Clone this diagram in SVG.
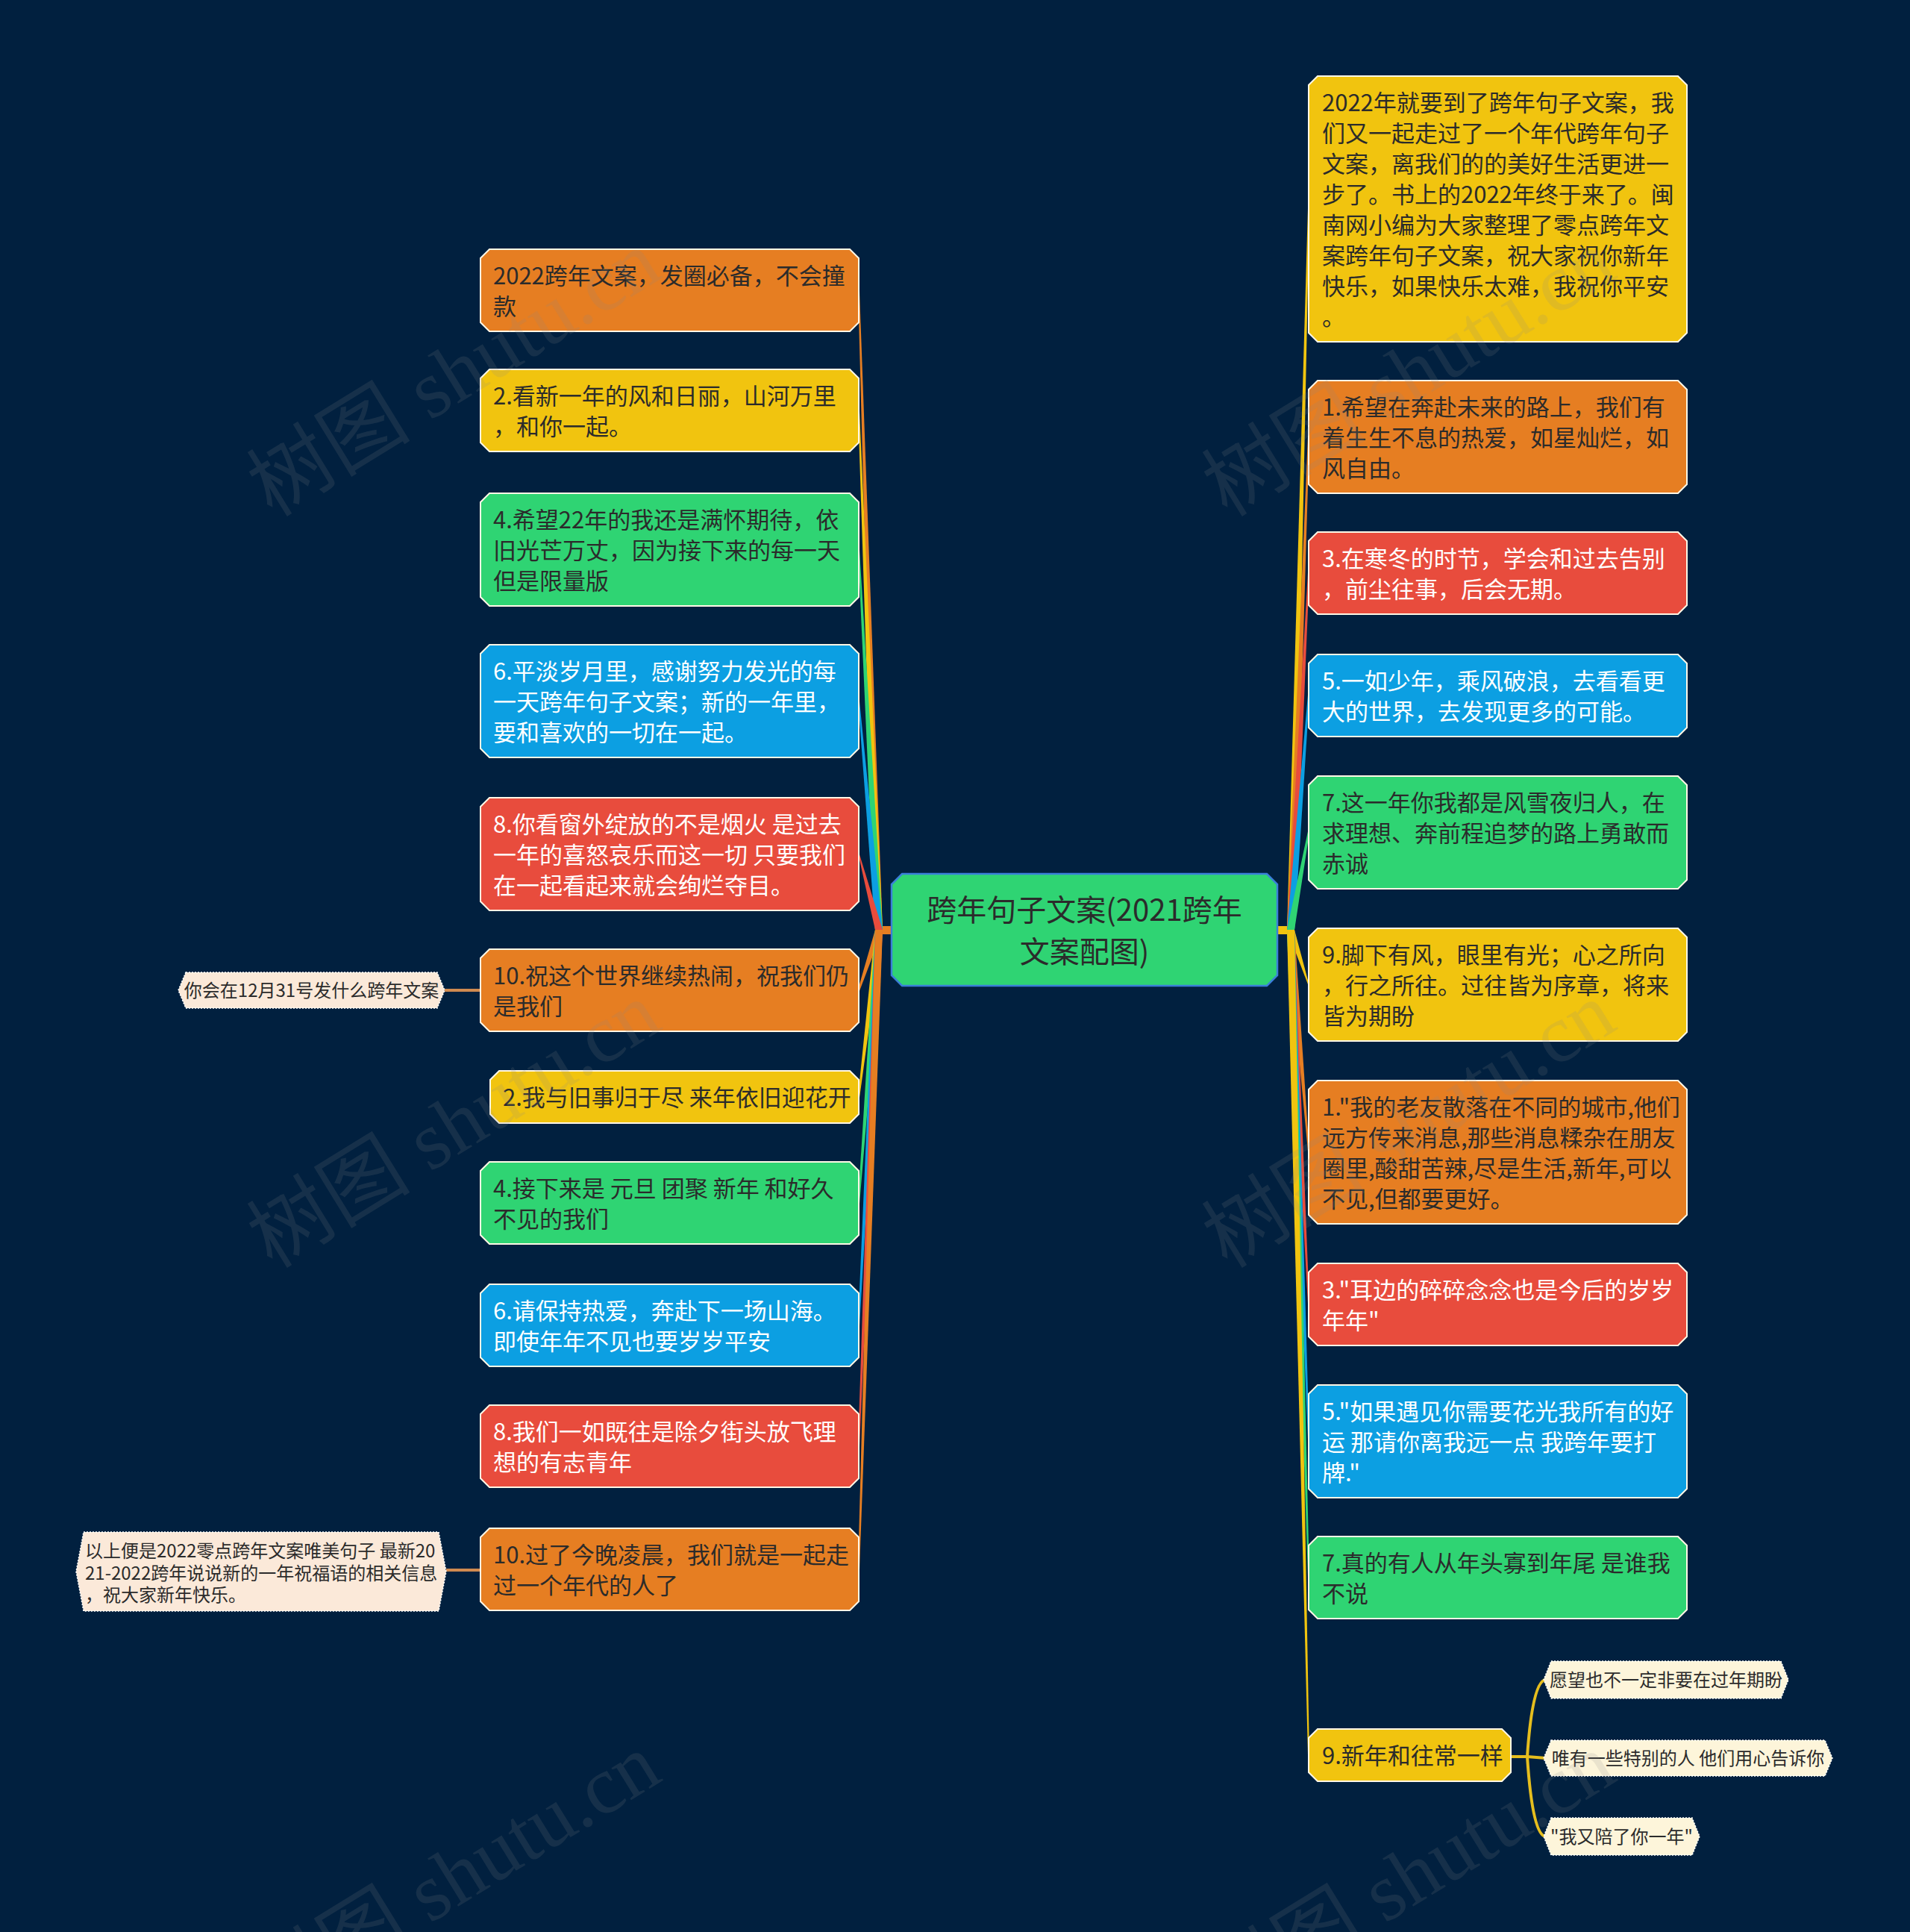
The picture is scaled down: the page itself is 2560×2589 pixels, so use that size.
<svg xmlns="http://www.w3.org/2000/svg" width="2560" height="2589" viewBox="0 0 2560 2589">
<style>
.t{font-family:"Noto Sans CJK SC","Noto Sans",sans-serif;font-size:31px}
.dk{fill:#2b2b2b}
.lt{fill:#ffffff}
.nb{stroke:#fff7e6;stroke-width:2}
.or{fill:#e67e22}.ye{fill:#f1c40f}.gr{fill:#2fd473}.bl{fill:#0c9fe2}.rd{fill:#e84c3d}
.sub{stroke:#ffffff;stroke-width:1.5;stroke-dasharray:2 2}
.st{font-family:"Noto Sans CJK SC","Noto Sans",sans-serif;fill:#2b2b2b;font-size:24px}
.wm{font-family:"Liberation Serif","Noto Sans CJK SC",serif;font-size:110px;fill:#8a8a8a;fill-opacity:0.16}
</style>
<defs>
<path id="box2" d="M12,0 H495 L507,12 V98 L495,110 H12 L0,98 V12 Z"/>
<path id="box3" d="M12,0 H495 L507,12 V139 L495,151 H12 L0,139 V12 Z"/>
</defs>
<rect x="0" y="0" width="2560" height="2589" fill="#01203f"/>

<g id="connectors">
<rect x="1173" y="1241" width="24" height="11" fill="#e67e22"/>
<rect x="1712" y="1241" width="23" height="11" fill="#f1c40f"/>
<polygon points="1173,1246 1150,388 1152,390 1183,1246" fill="#e67e22"/>
<polygon points="1173,1246 1150,549 1152,551 1183,1246" fill="#f1c40f"/>
<polygon points="1173,1246 1150,735 1152,737 1183,1246" fill="#2fd473"/>
<polygon points="1173,1246 1150,938 1152,940 1183,1246" fill="#0c9fe2"/>
<polygon points="1173,1246 1150,1143 1152,1145 1183,1246" fill="#e84c3d"/>
<polygon points="1173,1246 1150,1326 1152,1328 1183,1246" fill="#e67e22"/>
<polygon points="1173,1246 1150,1469 1152,1471 1183,1246" fill="#f1c40f"/>
<polygon points="1173,1246 1150,1611 1152,1613 1183,1246" fill="#2fd473"/>
<polygon points="1173,1246 1150,1775 1152,1777 1183,1246" fill="#0c9fe2"/>
<polygon points="1173,1246 1150,1937 1152,1939 1183,1246" fill="#e84c3d"/>
<polygon points="1173,1246 1150,2102 1152,2104 1183,1246" fill="#e67e22"/>

<polygon points="1725,1246 1753,279 1755,281 1735,1246" fill="#f1c40f"/>
<polygon points="1725,1246 1753,584 1755,586 1735,1246" fill="#e67e22"/>
<polygon points="1725,1246 1753,767 1755,769 1735,1246" fill="#e84c3d"/>
<polygon points="1725,1246 1753,931 1755,933 1735,1246" fill="#0c9fe2"/>
<polygon points="1725,1246 1753,1114 1755,1116 1735,1246" fill="#2fd473"/>
<polygon points="1725,1246 1753,1319 1755,1321 1735,1246" fill="#f1c40f"/>
<polygon points="1725,1246 1753,1543 1755,1545 1735,1246" fill="#e67e22"/>
<polygon points="1725,1246 1753,1747 1755,1749 1735,1246" fill="#e84c3d"/>
<polygon points="1725,1246 1753,1930 1755,1932 1735,1246" fill="#0c9fe2"/>
<polygon points="1725,1246 1753,2113 1755,2115 1735,1246" fill="#2fd473"/>
<polygon points="1725,1246 1753,2351 1755,2353 1735,1246" fill="#f1c40f"/>

<line x1="596" y1="1327" x2="646" y2="1327" stroke="#d08a50" stroke-width="4"/>
<line x1="598" y1="2104" x2="646" y2="2104" stroke="#d08a50" stroke-width="4"/>
<g fill="none" stroke="#e6be1e" stroke-width="4">
<path d="M2023,2354 H2049"/>
<path d="M2047,2354 Q2054,2251 2072,2251"/>
<path d="M2047,2354 L2072,2356"/>
<path d="M2047,2354 Q2054,2461 2072,2461"/>
</g>
</g>

<g id="center" transform="translate(1195,1171)">
<path d="M14,0 H503 L517,14 V136 L503,150 H14 L0,136 V14 Z" fill="#2fd473" stroke="#3a7fd8" stroke-width="2.5"/>
<text class="t dk" style="font-size:40px" text-anchor="middle"><tspan x="258.5" y="63">跨年句子文案(2021跨年</tspan><tspan x="258.5" y="119">文案配图)</tspan></text>
</g>

<g id="L1" transform="translate(644,334)"><use href="#box2" class="or nb"/><text class="t dk"><tspan x="17" y="47">2022跨年文案，发圈必备，不会撞</tspan><tspan x="17" dy="41">款</tspan></text></g>
<g id="L2" transform="translate(644,495)"><use href="#box2" class="ye nb"/><text class="t dk"><tspan x="17" y="47">2.看新一年的风和日丽，山河万里</tspan><tspan x="17" dy="41">，和你一起。</tspan></text></g>
<g id="L3" transform="translate(644,661)"><use href="#box3" class="gr nb"/><text class="t dk"><tspan x="17" y="47">4.希望22年的我还是满怀期待，依</tspan><tspan x="17" dy="41">旧光芒万丈，因为接下来的每一天</tspan><tspan x="17" dy="41">但是限量版</tspan></text></g>
<g id="L4" transform="translate(644,864)"><use href="#box3" class="bl nb"/><text class="t lt"><tspan x="17" y="47">6.平淡岁月里，感谢努力发光的每</tspan><tspan x="17" dy="41">一天跨年句子文案；新的一年里，</tspan><tspan x="17" dy="41">要和喜欢的一切在一起。</tspan></text></g>
<g id="L5" transform="translate(644,1069)"><use href="#box3" class="rd nb"/><text class="t lt"><tspan x="17" y="47">8.你看窗外绽放的不是烟火 是过去</tspan><tspan x="17" dy="41">一年的喜怒哀乐而这一切 只要我们</tspan><tspan x="17" dy="41">在一起看起来就会绚烂夺目。</tspan></text></g>
<g id="L6" transform="translate(644,1272)"><use href="#box2" class="or nb"/><text class="t dk"><tspan x="17" y="47">10.祝这个世界继续热闹，祝我们仍</tspan><tspan x="17" dy="41">是我们</tspan></text></g>
<g id="L7" transform="translate(657,1435)"><path d="M12,0 H482 L494,12 V58 L482,70 H12 L0,58 V12 Z" class="ye nb"/><text class="t dk"><tspan x="17" y="47">2.我与旧事归于尽 来年依旧迎花开</tspan></text></g>
<g id="L8" transform="translate(644,1557)"><use href="#box2" class="gr nb"/><text class="t dk"><tspan x="17" y="47">4.接下来是 元旦 团聚 新年 和好久</tspan><tspan x="17" dy="41">不见的我们</tspan></text></g>
<g id="L9" transform="translate(644,1721)"><use href="#box2" class="bl nb"/><text class="t lt"><tspan x="17" y="47">6.请保持热爱，奔赴下一场山海。</tspan><tspan x="17" dy="41">即使年年不见也要岁岁平安</tspan></text></g>
<g id="L10" transform="translate(644,1883)"><use href="#box2" class="rd nb"/><text class="t lt"><tspan x="17" y="47">8.我们一如既往是除夕街头放飞理</tspan><tspan x="17" dy="41">想的有志青年</tspan></text></g>
<g id="L11" transform="translate(644,2048)"><use href="#box2" class="or nb"/><text class="t dk"><tspan x="17" y="47">10.过了今晚凌晨，我们就是一起走</tspan><tspan x="17" dy="41">过一个年代的人了</tspan></text></g>

<g id="S1" transform="translate(239,1303)"><path d="M10,0 H347 L357,24 L347,48 H10 L0,24 Z" fill="#fbe9d9" class="sub"/><text class="st" text-anchor="middle" x="178.5" y="33">你会在12月31号发什么跨年文案</text></g>
<g id="S2" transform="translate(102,2053)"><path d="M10,0 H486 L496,53 L486,106 H10 L0,53 Z" fill="#fbe9d9" class="sub"/><text class="st"><tspan x="12" y="34">以上便是2022零点跨年文案唯美句子 最新20</tspan><tspan x="12" y="64">21-2022跨年说说新的一年祝福语的相关信息</tspan><tspan x="12" y="93">，祝大家新年快乐。</tspan></text></g>

<g id="R1" transform="translate(1754,102)"><path d="M12,0 H495 L507,12 V344 L495,356 H12 L0,344 V12 Z" class="ye nb"/><text class="t dk"><tspan x="18" y="47">2022年就要到了跨年句子文案，我</tspan><tspan x="18" dy="41">们又一起走过了一个年代跨年句子</tspan><tspan x="18" dy="41">文案，离我们的的美好生活更进一</tspan><tspan x="18" dy="41">步了。书上的2022年终于来了。闽</tspan><tspan x="18" dy="41">南网小编为大家整理了零点跨年文</tspan><tspan x="18" dy="41">案跨年句子文案，祝大家祝你新年</tspan><tspan x="18" dy="41">快乐，如果快乐太难，我祝你平安</tspan><tspan x="18" dy="41">。</tspan></text></g>
<g id="R2" transform="translate(1754,510)"><use href="#box3" class="or nb"/><text class="t dk"><tspan x="18" y="47">1.希望在奔赴未来的路上，我们有</tspan><tspan x="18" dy="41">着生生不息的热爱，如星灿烂，如</tspan><tspan x="18" dy="41">风自由。</tspan></text></g>
<g id="R3" transform="translate(1754,713)"><use href="#box2" class="rd nb"/><text class="t lt"><tspan x="18" y="47">3.在寒冬的时节，学会和过去告别</tspan><tspan x="18" dy="41">，前尘往事，后会无期。</tspan></text></g>
<g id="R4" transform="translate(1754,877)"><use href="#box2" class="bl nb"/><text class="t lt"><tspan x="18" y="47">5.一如少年，乘风破浪，去看看更</tspan><tspan x="18" dy="41">大的世界，去发现更多的可能。</tspan></text></g>
<g id="R5" transform="translate(1754,1040)"><use href="#box3" class="gr nb"/><text class="t dk"><tspan x="18" y="47">7.这一年你我都是风雪夜归人，在</tspan><tspan x="18" dy="41">求理想、奔前程追梦的路上勇敢而</tspan><tspan x="18" dy="41">赤诚</tspan></text></g>
<g id="R6" transform="translate(1754,1244)"><use href="#box3" class="ye nb"/><text class="t dk"><tspan x="18" y="47">9.脚下有风，眼里有光；心之所向</tspan><tspan x="18" dy="41">，行之所往。过往皆为序章，将来</tspan><tspan x="18" dy="41">皆为期盼</tspan></text></g>
<g id="R7" transform="translate(1754,1448)"><path d="M12,0 H495 L507,12 V180 L495,192 H12 L0,180 V12 Z" class="or nb"/><text class="t dk"><tspan x="18" y="47">1."我的老友散落在不同的城市,他们</tspan><tspan x="18" dy="41">远方传来消息,那些消息糅杂在朋友</tspan><tspan x="18" dy="41">圈里,酸甜苦辣,尽是生活,新年,可以</tspan><tspan x="18" dy="41">不见,但都要更好。</tspan></text></g>
<g id="R8" transform="translate(1754,1693)"><use href="#box2" class="rd nb"/><text class="t lt"><tspan x="18" y="47">3."耳边的碎碎念念也是今后的岁岁</tspan><tspan x="18" dy="41">年年"</tspan></text></g>
<g id="R9" transform="translate(1754,1856)"><use href="#box3" class="bl nb"/><text class="t lt"><tspan x="18" y="47">5."如果遇见你需要花光我所有的好</tspan><tspan x="18" dy="41">运 那请你离我远一点 我跨年要打</tspan><tspan x="18" dy="41">牌."</tspan></text></g>
<g id="R10" transform="translate(1754,2059)"><use href="#box2" class="gr nb"/><text class="t dk"><tspan x="18" y="47">7.真的有人从年头寡到年尾 是谁我</tspan><tspan x="18" dy="41">不说</tspan></text></g>
<g id="R11" transform="translate(1754,2317)"><path d="M12,0 H259 L271,12 V58 L259,70 H12 L0,58 V12 Z" class="ye nb"/><text class="t dk"><tspan x="18" y="47">9.新年和往常一样</tspan></text></g>

<g id="RS1" transform="translate(2069,2226)"><path d="M10,0 H318 L328,25 L318,50 H10 L0,25 Z" fill="#fdf5da" class="sub"/><text class="st" text-anchor="middle" x="164" y="34">愿望也不一定非要在过年期盼</text></g>
<g id="RS2" transform="translate(2069,2332)"><path d="M10,0 H377 L387,24 L377,48 H10 L0,24 Z" fill="#fdf5da" class="sub"/><text class="st" text-anchor="middle" x="193.5" y="33">唯有一些特别的人 他们用心告诉你</text></g>
<g id="RS3" transform="translate(2069,2436)"><path d="M10,0 H199 L209,25 L199,50 H10 L0,25 Z" fill="#fdf5da" class="sub"/><text class="st" text-anchor="middle" x="104.5" y="34">"我又陪了你一年"</text></g>

<g id="watermarks">
<text class="wm" x="365" y="694" transform="rotate(-31.6 365 694)">树图 shutu.cn</text>
<text class="wm" x="1645" y="694" transform="rotate(-31.6 1645 694)">树图 shutu.cn</text>
<text class="wm" x="365" y="1701" transform="rotate(-31.6 365 1701)">树图 shutu.cn</text>
<text class="wm" x="1645" y="1701" transform="rotate(-31.6 1645 1701)">树图 shutu.cn</text>
<text class="wm" x="365" y="2708" transform="rotate(-31.6 365 2708)">树图 shutu.cn</text>
<text class="wm" x="1645" y="2708" transform="rotate(-31.6 1645 2708)">树图 shutu.cn</text>
</g>
</svg>
